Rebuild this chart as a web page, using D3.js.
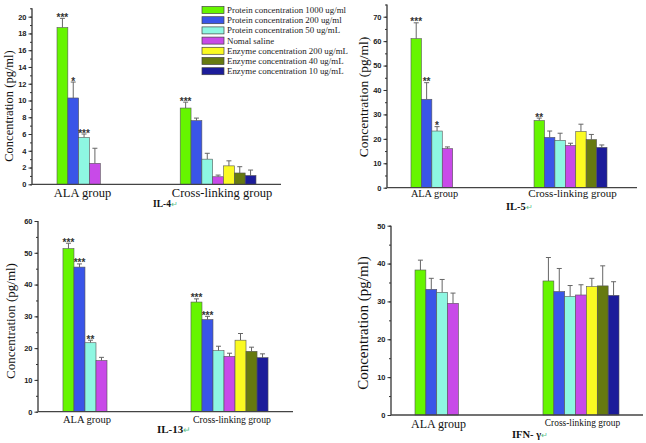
<!DOCTYPE html>
<html><head><meta charset="utf-8">
<script src="https://cdn.jsdelivr.net/npm/d3@7"></script>
<style>body{margin:0;background:#fff}svg{display:block}</style>
</head><body>
<svg id="c" width="646" height="443"></svg>
<script>
const groups = ["ALA group", "Cross-linking group"];
const seriesNames = ["Protein concentration 1000 ug/ml","Protein concentration 200 ug/ml","Protein concentration 50 ug/mL","Nomal saline","Enzyme concentration 200 ug/mL","Enzyme concentration 40 ug/mL","Enzyme concentration 10 ug/mL"];
const seriesColors = ["#66f500","#3a55e8","#8ef7e2","#c84ae8","#fafa22","#667a10","#1c1c9a"];

const il4ALA = [18.7,10.3,5.6,2.5];
const il4ALAerr = [1.1,1.9,0.4,1.8];
const il4ALAstars = ["***","*","***",""];
const il4Cross = [9.1,7.6,3.0,0.9,2.2,1.35,1.05];
const il4CrossErr = [0.7,0.3,0.7,0.2,0.6,0.75,0.65];
const il4CrossStars = ["***","","","","","",""];
const il4Ticks = [0,2,4,6,8,10,12,14,16,18,20];

const il5ALA = [61,36.2,23.2,16];
const il5ALAerr = [6.5,6.8,1.8,0.7];
const il5ALAstars = ["***","**","*",""];
const il5Cross = [27.5,20.6,19.4,17.3,23.0,19.7,16.5];
const il5CrossErr = [1.0,2.6,2.9,0.9,3.0,2.1,1.0];
const il5CrossStars = ["**","","","","","",""];
const il5Ticks = [0,10,20,30,40,50,60,70];

const il13ALA = [51.3,45.5,21.7,16.1];
const il13ALAerr = [1.7,1.0,0.8,1.0];
const il13ALAstars = ["***","***","**",""];
const il13Cross = [34.5,29,19.2,17.4,22.5,19,17];
const il13CrossErr = [1.0,1.0,1.4,1.0,2.1,1.3,1.2];
const il13CrossStars = ["***","***","","","","",""];
const il13Ticks = [0,10,20,30,40,50,60];

const ifnALA = [38.3,33.2,32.4,29.5];
const ifnALAerr = [2.6,2.9,3.4,2.7];
const ifnALAstars = ["","","",""];
const ifnCross = [35.4,32.6,31.3,31.7,33.9,34.1,31.6];
const ifnCrossErr = [6.2,6.1,2.9,2.7,2.2,5.3,3.6];
const ifnCrossStars = ["","","","","","",""];
const ifnTicks = [0,10,20,30,40,50];

const panels = [
  {title:"IL-4", ala:il4ALA, alaErr:il4ALAerr, alaStars:il4ALAstars, cross:il4Cross, crossErr:il4CrossErr, crossStars:il4CrossStars, ticks:il4Ticks, max:21, minorStep:1,
   x0:32, x1:281, xEnd:281, y0:184.3, y1:8.3, pi:0.385, po:0.203, ylabX:9, ylabY:106, ylabSize:12.5,
   gl:[{x:82.5,y:197,s:12.5},{x:222,y:197,s:12.5}], tx:153, ty:207, ts:9.5},
  {title:"IL-5", ala:il5ALA, alaErr:il5ALAerr, alaStars:il5ALAstars, cross:il5Cross, crossErr:il5CrossErr, crossStars:il5CrossStars, ticks:il5Ticks, max:75, minorStep:5,
   x0:387, x1:631, xEnd:637, y0:187.7, y1:4.5, pi:0.407, po:0.195, ylabX:363, ylabY:97, ylabSize:13.5,
   gl:[{x:434.5,y:197,s:10.3},{x:572.5,y:197,s:11}], tx:506, ty:210, ts:10.5},
  {title:"IL-13", ala:il13ALA, alaErr:il13ALAerr, alaStars:il13ALAstars, cross:il13Cross, crossErr:il13CrossErr, crossStars:il13CrossStars, ticks:il13Ticks, max:60, minorStep:5,
   x0:38, x1:293, xEnd:293, y0:411.7, y1:221, pi:0.398, po:0.195, ylabX:10, ylabY:321, ylabSize:13,
   gl:[{x:87,y:423,s:10.5},{x:232,y:423,s:9.7}], tx:157, ty:433, ts:11},
  {title:"IFN- \u03b3", ala:ifnALA, alaErr:ifnALAerr, alaStars:ifnALAstars, cross:ifnCross, crossErr:ifnCrossErr, crossStars:ifnCrossStars, ticks:ifnTicks, max:50, minorStep:5,
   x0:391, x1:643, xEnd:643, y0:415, y1:225.7, pi:0.406, po:0.1875, ylabX:363, ylabY:323, ylabSize:15,
   gl:[{x:438.5,y:428,s:12},{x:582.5,y:426,s:9.4}], tx:512, ty:438, ts:10.5}
];

const svg = d3.select("#c");
const serif = "'Liberation Serif','Times New Roman',serif";
const sans = "'Liberation Sans',Arial,sans-serif";

panels.forEach(p => {
  const g = svg.append("g");
  const x = d3.scaleBand().domain(groups).range([p.x0, p.x1]).paddingInner(p.pi).paddingOuter(p.po);
  const xs = d3.scaleBand().domain(d3.range(7)).range([0, x.bandwidth()]);
  const y = d3.scaleLinear().domain([0, p.max]).range([p.y0, p.y1]);

  const rows = [];
  p.ala.forEach((v,i)=>rows.push({g:groups[0], i, v, e:p.alaErr[i], s:p.alaStars[i]}));
  p.cross.forEach((v,i)=>rows.push({g:groups[1], i, v, e:p.crossErr[i], s:p.crossStars[i]}));

  const eb = g.append("g").attr("stroke","#666").attr("stroke-width",1).attr("fill","none");
  rows.forEach(r => {
    const cx = x(r.g) + xs(r.i) + xs.bandwidth()/2;
    eb.append("line").attr("x1",cx).attr("x2",cx).attr("y1",y(r.v)).attr("y2",y(r.v+r.e));
    eb.append("line").attr("x1",cx-2.5).attr("x2",cx+2.5).attr("y1",y(r.v+r.e)).attr("y2",y(r.v+r.e));
  });
  g.append("g").selectAll("rect").data(rows).join("rect")
    .attr("x", r => x(r.g) + xs(r.i))
    .attr("y", r => y(r.v))
    .attr("width", xs.bandwidth())
    .attr("height", r => y(0) - y(r.v))
    .attr("fill", r => seriesColors[r.i])
    .attr("stroke", "#555").attr("stroke-width", 0.6);
  g.append("g").selectAll("text").data(rows.filter(r=>r.s)).join("text")
    .attr("x", r => x(r.g) + xs(r.i) + xs.bandwidth()/2)
    .attr("y", r => y(r.v + r.e) + 2.5)
    .attr("text-anchor","middle").attr("font-family",sans).attr("font-weight","bold")
    .attr("font-size",10).attr("fill","#333").text(r=>r.s);

  const minor = d3.range(0, p.max + 0.001, p.minorStep);
  const ax = g.append("g").attr("transform",`translate(${p.x0},0)`)
    .call(d3.axisLeft(y).tickValues(minor).tickSize(2).tickFormat(""));
  ax.selectAll("line").attr("stroke","#333");
  ax.select(".domain").remove();
  const axM = g.append("g").attr("transform",`translate(${p.x0},0)`)
    .call(d3.axisLeft(y).tickValues(p.ticks).tickSize(3.5).tickPadding(2).tickFormat(d3.format("d")));
  axM.select(".domain").remove();
  axM.selectAll("line").attr("stroke","#333");
  axM.selectAll("text").attr("font-family",sans).attr("font-weight","bold").attr("font-size",7.5).attr("fill","#222");
  g.append("line").attr("x1",p.x0).attr("x2",p.x0).attr("y1",y(0)).attr("y2",y(p.max)).attr("stroke","#333").attr("stroke-width",1.3);
  g.append("line").attr("x1",p.x0).attr("x2",p.xEnd).attr("y1",y(0)).attr("y2",y(0)).attr("stroke","#444").attr("stroke-width",1.3);

  p.gl.forEach((l,k)=>{
    g.append("text").attr("x",l.x).attr("y",l.y).attr("text-anchor","middle")
      .attr("font-family",serif).attr("font-size",l.s).attr("fill","#111").text(groups[k]);
  });
  g.append("text").attr("transform",`translate(${p.ylabX + p.ylabSize*0.35},${p.ylabY}) rotate(-90)`)
    .attr("text-anchor","middle").attr("font-family",serif).attr("font-size",p.ylabSize).attr("fill","#111")
    .text("Concentration (pg/ml)");
  const t = g.append("text").attr("x",p.tx).attr("y",p.ty).attr("font-family",serif).attr("font-weight","bold")
    .attr("font-size",p.ts).attr("fill","#111");
  t.append("tspan").text(p.title);
  t.append("tspan").attr("fill","#5cbf8a").attr("font-weight","normal").attr("font-size",p.ts*0.8).text("\u21b5");
});

const lg = svg.append("g");
seriesNames.forEach((n,i)=>{
  const yy = 10 + i*10.2;
  lg.append("rect").attr("x",202).attr("y",yy-3.5).attr("width",22).attr("height",7)
    .attr("fill",seriesColors[i]).attr("stroke","#444").attr("stroke-width",0.7);
  lg.append("text").attr("x",227).attr("y",yy+3).attr("font-family",serif).attr("font-size",8.9)
    .attr("fill","#222").text(n);
});
</script>
</body></html>
